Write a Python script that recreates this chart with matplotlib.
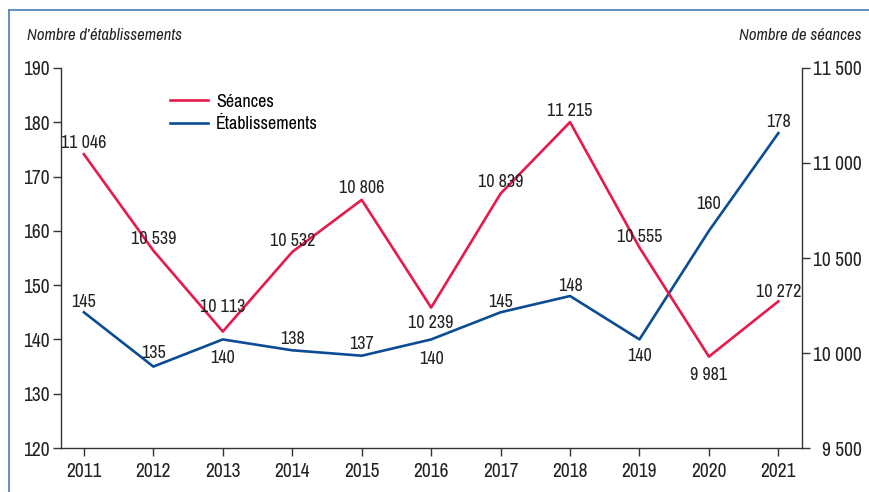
import matplotlib.pyplot as plt
from matplotlib import font_manager
from matplotlib.lines import Line2D

years = [2011, 2012, 2013, 2014, 2015, 2016, 2017, 2018, 2019, 2020, 2021]
seances = [11046, 10539, 10113, 10532, 10806, 10239, 10839, 11215, 10555, 9981, 10272]
etablissements = [145, 135, 140, 138, 137, 140, 145, 148, 140, 160, 178]
# vertical shift of each value label, in pixels (up > 0)
seances_dy = [13, 14, 27, 13, 14, -13, 14, 13, 13, -16, 11]
etab_dy = [12, 16, -17, 13, 14, -18, 12, 12, -15, 29, 13]

left_ticks = [120, 130, 140, 150, 160, 170, 180, 190]
right_ticks = [9500, 10000, 10500, 11000, 11500]

RED = '#E8194B'
BLUE = '#0B4C94'
TXT = '#222222'
PX = 0.72  # points per pixel at 100 dpi

# narrow font if one is there
names = {f.name for f in font_manager.fontManager.ttflist}
narrow = [n for n in names if 'Narrow' in n or 'Condensed' in n]
plt.rcParams['font.family'] = sorted(narrow) + ['DejaVu Sans']
plt.rcParams['font.stretch'] = 'condensed'

fig = plt.figure(figsize=(8.7, 4.92), dpi=100)
ax = fig.add_axes([0.0701, 0.0894, 0.8517, 0.7724])
ax2 = ax.twinx()

ax.plot(years, etablissements, color=BLUE, lw=1.9, zorder=3)
ax2.plot(years, seances, color=RED, lw=1.9, zorder=3)

ax.set_xlim(2010.67, 2021.34)
ax.set_ylim(120, 190)
ax2.set_ylim(9500, 11500)

ax.set_xticks(years)
ax.set_yticks(left_ticks)
ax2.set_yticks(right_ticks)
ax2.set_yticklabels([f'{v:,}'.replace(',', ' ') for v in right_ticks])

for a in (ax, ax2):
    a.spines['top'].set_visible(False)
    for s in a.spines.values():
        s.set_color('#333333')
        s.set_linewidth(1)
ax.spines['right'].set_visible(False)
ax2.spines['left'].set_visible(False)
ax2.spines['bottom'].set_visible(False)

ax.tick_params(axis='both', colors='#333333', labelcolor=TXT, labelsize=14, length=6, width=1)
ax.tick_params(axis='y', pad=2)
ax.tick_params(axis='x', pad=4)
ax2.tick_params(axis='y', colors='#333333', labelcolor=TXT, labelsize=14, length=6, width=1, pad=37)
for lbl in ax2.get_yticklabels():
    lbl.set_horizontalalignment('right')

# value labels (va=center sits a bit high for digits, so pull down 2px)
for x, v, dy in zip(years, seances, seances_dy):
    ax2.annotate(f'{v:,}'.replace(',', ' '), (x, v), xytext=(0, (dy - 2) * PX),
                 textcoords='offset points', ha='center', va='center',
                 fontsize=13, color=TXT, zorder=4)
for x, v, dy in zip(years, etablissements, etab_dy):
    ax.annotate(str(v), (x, v), xytext=(0, (dy - 2) * PX),
                textcoords='offset points', ha='center', va='center',
                fontsize=13, color=TXT, zorder=4)

# axis titles
fig.text(27 / 870, 1 - 35 / 492, 'Nombre d\u2019établissements', style='italic',
         fontsize=12, color=TXT, ha='left', va='center')
fig.text(862 / 870, 1 - 35 / 492, 'Nombre de séances', style='italic',
         fontsize=12, color=TXT, ha='right', va='center')

handles = [Line2D([], [], color=RED, lw=1.9), Line2D([], [], color=BLUE, lw=1.9)]
ax.legend(handles, ['Séances', 'Établissements'], loc='upper left',
          bbox_to_anchor=(0.125, 0.975), frameon=False, fontsize=13,
          handlelength=2.1, handletextpad=0.45, labelspacing=0.35)

# frame of the figure (left and top)
fig.add_artist(Line2D([9.5 / 870, 9.5 / 870], [0, 1 - 10 / 492], color='#4A7EBB', lw=1.2,
                      transform=fig.transFigure))
fig.add_artist(Line2D([9.5 / 870, 1], [1 - 10 / 492, 1 - 10 / 492], color='#4A7EBB', lw=1.2,
                      transform=fig.transFigure))

fig.savefig('out.png', dpi=100)
